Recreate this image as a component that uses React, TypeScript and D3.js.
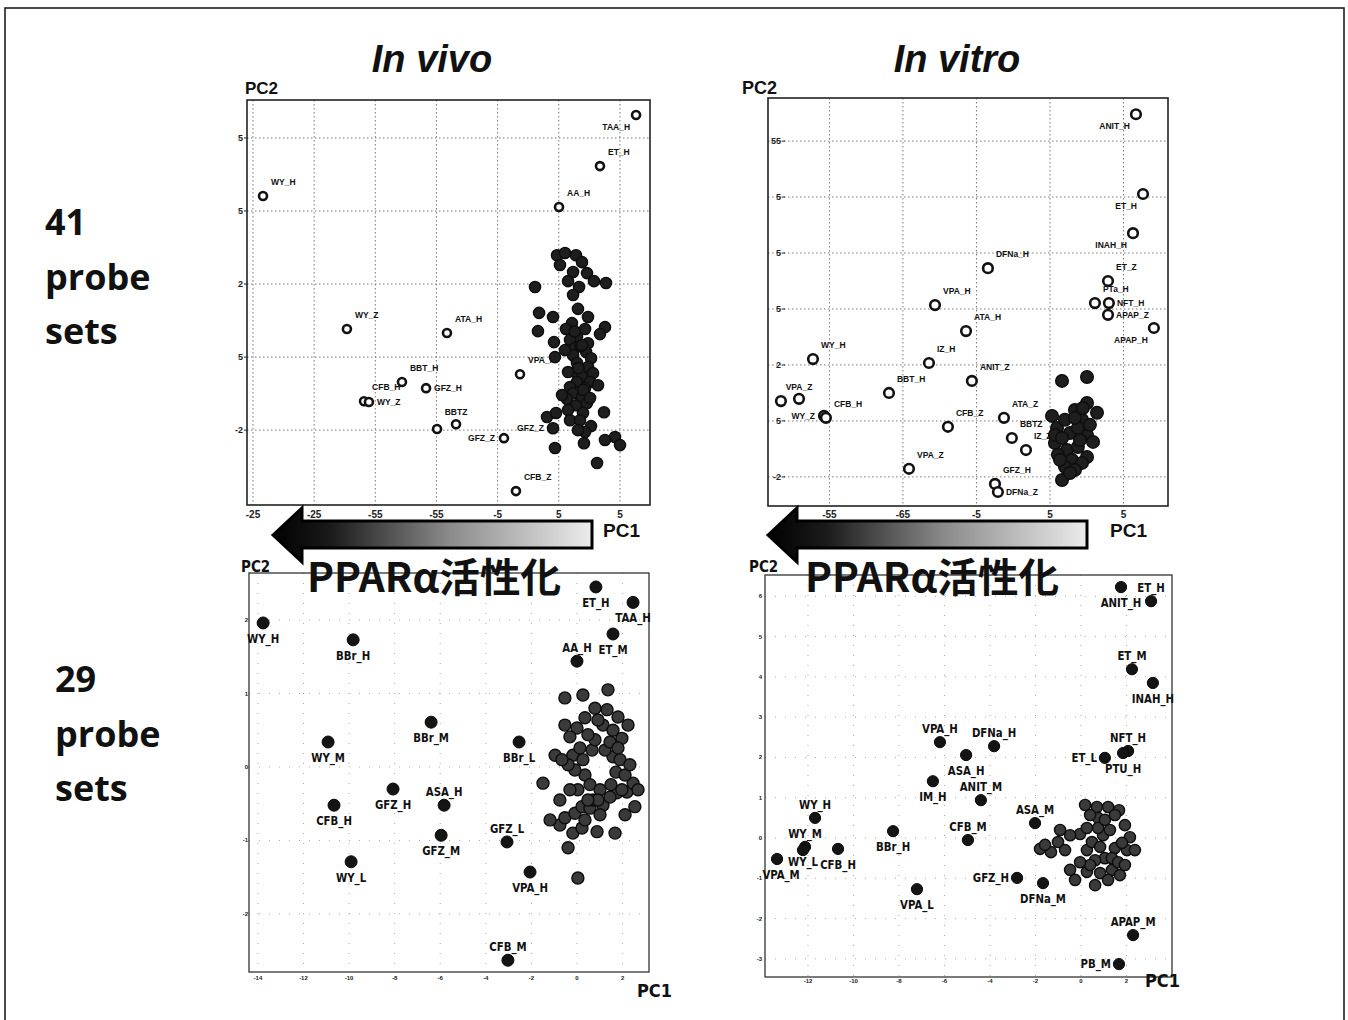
import React, { useRef, useEffect } from "react";
import * as d3 from "d3";

type Pt = [string, number, number];
type Dot = [number, number];

// ---------- In vivo, 41 probe sets (open = labelled compounds, filled = others) ----------
const tlOpen: Pt[] = [
  ["WY_H", -24.18, 4.41],
  ["TAA_H", 6.32, 6.63],
  ["ET_H", 3.37, 5.23],
  ["AA_H", 0.02, 4.11],
  ["WY_Z", -17.32, 0.77],
  ["ATA_H", -9.14, 0.66],
  ["VPA_H", -3.17, -0.47],
  ["BBT_H", -12.82, -0.68],
  ["GFZ_H", -10.85, -0.85],
  ["CFB_H", -15.92, -1.21],
  ["WY_Z", -15.52, -1.23],
  ["", -9.95, -1.97],
  ["BBTZ", -8.4, -1.84],
  ["GFZ_Z", -4.48, -2.22],
  ["CFB_Z", -3.5, -3.67],
];
const tlOpenSide = ["ne", "sw", "ne", "ne", "ne", "ne", "ne", "ne", "e", "ne", "e", "", "n", "w", "ne"];
const tlTextOnly: Pt[] = [["GFZ_Z", -0.47, -1.95]];
const tlTextOnlySide = ["w"];
const tlFilled: Dot[] = [
  [-0.14, 2.79], [0.51, 2.85], [1.41, 2.79], [1.17, 2.33], [2.31, 2.3], [2.88, 2.08], [3.86, 2.03],
  [0.76, 2.08], [1.66, 1.92], [1.17, 1.7], [-1.94, 1.92], [1.57, 1.32], [-1.61, 1.21], [-0.47, 1.1],
  [2.39, 1.1], [1.08, 0.93], [3.78, 0.82], [-1.7, 0.71], [0.59, 0.77], [2.15, 0.77], [3.37, 0.63],
  [1.49, 0.55], [-0.39, 0.41], [0.92, 0.47], [2.39, 0.38], [1.33, 0.25], [2.23, 0.14], [1.17, 0.05],
  [2.64, -0.03], [-0.31, 0.0], [1.49, -0.16], [2.39, -0.27], [1.33, -0.41], [2.8, -0.44], [1.9, -0.55],
  [1.49, -0.68], [2.55, -0.68], [3.21, -0.77], [0.92, -0.82], [2.15, -0.85], [1.17, -0.99], [0.67, -1.15],
  [1.9, -1.1], [1.41, -1.32], [2.31, -1.26], [0.76, -1.45], [1.98, -1.53], [3.7, -1.51], [-0.96, -1.64],
  [-0.22, -1.53], [0.92, -1.73], [1.74, -1.73], [-0.47, -1.95], [2.64, -1.89], [2.15, -2.05], [2.06, -2.36],
  [4.6, -2.19], [3.78, -2.27], [5.01, -2.41], [-0.31, -2.49], [3.13, -2.9], [1.8, 0.3], [1.6, -0.3],
  [2.0, -0.9], [1.3, 0.7], [0.1, 2.52], [1.9, 2.6], [0.51, 0.19], [1.9, 0.33], [0.76, -0.41],
  [0.27, -1.04], [2.56, -1.12], [1.57, -2.0],
];
const tlXTicks = [-25, -20, -15, -10, -5, 0, 5];
const tlXTickText = ["-25", "-25", "-55", "-55", "-5", "5", "5"];
const tlYTicks = [6, 4, 2, 0, -2];
const tlYTickText = ["5", "5", "2", "5", "-2"];

// ---------- In vitro, 41 probe sets ----------
const trOpen: Pt[] = [
  ["ANIT_H", 5.85, 10.96],
  ["ET_H", 6.33, 8.11],
  ["INAH_H", 5.65, 6.71],
  ["DFNa_H", -4.22, 5.46],
  ["ET_Z", 3.95, 5.0],
  ["PTa_H", 3.06, 4.21],
  ["NFT_H", 4.01, 4.21],
  ["APAP_Z", 3.95, 3.79],
  ["APAP_H", 7.07, 3.32],
  ["VPA_H", -7.82, 4.14],
  ["ATA_H", -5.71, 3.21],
  ["WY_H", -16.12, 2.21],
  ["IZ_H", -8.23, 2.07],
  ["ANIT_Z", -5.31, 1.43],
  ["BBT_H", -10.95, 1.0],
  ["", -18.3, 0.71],
  ["VPA_Z", -17.07, 0.79],
  ["WY_Z", -15.37, 0.18],
  ["CFB_H", -15.24, 0.11],
  ["CFB_Z", -6.94, -0.21],
  ["ATA_Z", -3.13, 0.11],
  ["BBTZ", -2.59, -0.61],
  ["IZ_Z", -1.63, -1.04],
  ["VPA_Z", -9.59, -1.71],
  ["GFZ_H", -3.74, -2.25],
  ["DFNa_Z", -3.54, -2.54],
];
const trOpenSide = [
  "sw", "sw", "sw", "ne", "ne", "ne", "e", "e", "sw", "ne", "ne", "ne", "ne",
  "ne", "ne", "", "n", "w", "ne", "ne", "ne", "ne", "ne", "ne", "ne", "e",
];
const trFilled: Dot[] = [
  [0.82, 1.43], [2.52, 1.57], [0.14, 0.18], [3.2, 0.29], [2.52, 0.64], [1.7, 0.39], [2.18, 0.04],
  [0.48, -0.25], [1.36, -0.43], [2.52, -0.5], [2.93, -0.75], [0.34, -0.79], [1.16, -1.04], [1.9, -0.93],
  [2.52, -1.29], [0.54, -1.21], [1.5, -1.39], [2.18, -1.5], [1.02, -1.64], [1.7, -1.75], [0.82, -2.11],
  [1.36, -1.86], [1.02, 0.04], [1.9, -0.25], [0.68, -1.39], [2.04, -0.68], [2.72, -0.14], [1.7, 0.11],
  [0.34, -0.5], [2.24, 0.46], [0.82, -0.61],
];
const trXTicks = [-15, -10, -5, 0, 5];
const trXTickText = ["-55", "-65", "-5", "5", "5"];
const trYTicks = [10, 8, 6, 4, 2, 0, -2];
const trYTickText = ["55", "5", "5", "5", "2", "5", "-2"];

// ---------- In vivo, 29 probe sets ----------
const blNamed: Pt[] = [
  ["WY_H", -13.77, 1.96],
  ["BBr_H", -9.82, 1.73],
  ["ET_H", 0.83, 2.45],
  ["TAA_H", 2.46, 2.24],
  ["ET_M", 1.58, 1.81],
  ["AA_H", 0.0, 1.44],
  ["BBr_M", -6.4, 0.61],
  ["WY_M", -10.92, 0.34],
  ["BBr_L", -2.54, 0.34],
  ["CFB_H", -10.66, -0.52],
  ["GFZ_H", -8.07, -0.3],
  ["ASA_H", -5.83, -0.52],
  ["GFZ_M", -5.96, -0.93],
  ["GFZ_L", -3.07, -1.02],
  ["WY_L", -9.91, -1.29],
  ["VPA_H", -2.06, -1.43],
  ["CFB_M", -3.03, -2.63],
];
const blNamedSide = ["s", "s", "s", "s", "s", "n", "s", "s", "s", "s", "s", "n", "s", "n", "s", "s", "n"];
const blOthers: Dot[] = [
  [-1.49, -0.22], [0.04, -1.51], [-0.39, -1.1], [-0.75, -0.79], [0.88, -0.88], [1.67, -0.9], [-0.18, -0.9],
  [0.22, -0.83], [-0.53, -0.69], [-0.09, -0.63], [0.22, -0.54], [0.57, -0.56], [0.7, -0.45], [1.14, -0.52],
  [1.75, -0.35], [2.19, -0.34], [2.54, -0.54], [2.46, -0.22], [-0.53, 0.94], [1.36, 1.05], [1.32, 0.78],
  [1.8, 0.68], [0.79, 0.8], [0.35, 0.67], [0.0, 0.53], [1.14, 0.57], [1.58, 0.5], [1.97, 0.39],
  [-0.31, 0.41], [-0.96, 0.16], [-0.18, 0.16], [0.26, 0.1], [0.35, -0.11], [0.57, -0.24], [1.01, -0.31],
  [1.49, -0.24], [1.71, -0.07], [1.58, 0.14], [1.23, 0.23], [0.66, 0.23], [0.13, 0.26], [1.89, 0.1],
  [-0.09, -0.04], [0.04, -0.31], [1.45, -0.41], [1.97, -0.31], [0.79, 0.37], [1.45, 0.34], [-0.39, 0.03],
  [2.11, -0.11], [0.92, -0.45], [0.48, -0.45], [-0.66, 0.1], [-0.31, -0.31], [0.35, -0.72], [1.01, -0.65],
  [2.11, -0.65], [2.32, 0.03], [1.8, 0.26], [0.48, 0.44], [-0.53, 0.57], [0.92, 0.64], [2.24, 0.57],
  [0.26, 0.98], [-0.75, -0.45], [-1.18, -0.72], [2.68, -0.31],
];
const blXTicks = [-14, -12, -10, -8, -6, -4, -2, 0, 2];
const blYTicks = [2, 1, 0, -1, -2];

// ---------- In vitro, 29 probe sets ----------
const brNamed: Pt[] = [
  ["ANIT_H", 1.76, 6.23],
  ["ET_H", 3.08, 5.88],
  ["ET_M", 2.24, 4.19],
  ["INAH_H", 3.16, 3.85],
  ["VPA_H", -6.2, 2.38],
  ["DFNa_H", -3.82, 2.28],
  ["ASA_H", -5.05, 2.06],
  ["NFT_H", 2.07, 2.16],
  ["PTU_H", 1.85, 2.11],
  ["ET_L", 1.05, 1.99],
  ["IM_H", -6.51, 1.41],
  ["ANIT_M", -4.4, 0.94],
  ["WY_H", -11.69, 0.5],
  ["ASA_M", -2.02, 0.37],
  ["BBr_H", -8.26, 0.17],
  ["CFB_M", -4.97, -0.05],
  ["WY_M", -12.13, -0.22],
  ["WY_L", -12.22, -0.3],
  ["CFB_H", -10.68, -0.27],
  ["VPA_M", -13.36, -0.52],
  ["GFZ_H", -2.81, -0.99],
  ["DFNa_M", -1.67, -1.12],
  ["VPA_L", -7.21, -1.27],
  ["APAP_M", 2.29, -2.41],
  ["PB_M", 1.67, -3.13],
];
const brNamedSide = [
  "s", "n", "n", "s", "n", "n", "s", "n", "s", "w", "s", "n", "n",
  "n", "s", "n", "n", "sc", "s", "se", "w", "s", "s", "n", "w",
];
const brOthers: Dot[] = [
  [-1.8, -0.27], [-1.32, -0.35], [-1.01, -0.1], [-0.26, -1.04], [-0.04, 0.1], [0.26, 0.25], [0.7, 0.77],
  [1.19, 0.77], [1.67, 0.69], [0.75, 0.5], [2.15, 0.02], [2.02, -0.3], [0.26, -0.3], [0.26, -0.84],
  [0.84, -0.87], [1.36, -0.79], [1.05, -0.5], [1.49, -0.25], [0.97, 0.07], [0.48, -0.1], [0.84, -0.22],
  [1.27, 0.2], [0.62, -0.55], [1.36, -0.5], [1.8, -0.12], [0.75, 0.25], [1.05, 0.45], [0.4, -0.67],
  [1.63, -0.6], [-1.58, -0.17], [-0.7, -0.3], [-0.48, 0.07], [0.4, 0.57], [1.49, 0.57], [1.93, 0.32],
  [2.37, -0.3], [1.71, -0.92], [0.62, -1.17], [-0.04, -0.6], [-0.48, -0.79], [1.19, -1.04], [0.18, 0.82],
  [-0.92, 0.2], [1.93, -0.67],
];
const brXTicks = [-12, -10, -8, -6, -4, -2, 0, 2];
const brYTicks = [6, 5, 4, 3, 2, 1, 0, -1, -2, -3];

const FONT = "'Liberation Sans', Arial, sans-serif";
const NARROW = "'Liberation Sans Narrow', 'DejaVu Sans Condensed', sans-serif";

const topSide: Record<string, [number, number, string]> = {
  ne: [8, -11, "start"],
  e: [8, 3, "start"],
  sw: [-6, 15, "end"],
  w: [-9, 3, "end"],
  n: [0, -9, "middle"],
};
const botSide: Record<string, [number, number, string]> = {
  s: [0, 20, "middle"],
  se: [4, 20, "middle"],
  sc: [0, 16, "middle"],
  n: [0, -9, "middle"],
  w: [-8, 4, "end"],
};

export default function App() {
  const ref = useRef<SVGSVGElement>(null);

  useEffect(() => {
    const svg = d3.select(ref.current);
    svg.selectAll("*").remove();

    const defs = svg.append("defs");
    const grad = defs.append("linearGradient").attr("id", "arrowGrad").attr("x1", 0).attr("x2", 1).attr("y1", 0).attr("y2", 0);
    grad.append("stop").attr("offset", "0%").attr("stop-color", "#000");
    grad.append("stop").attr("offset", "18%").attr("stop-color", "#1a1a1a");
    grad.append("stop").attr("offset", "55%").attr("stop-color", "#8a8a8a");
    grad.append("stop").attr("offset", "100%").attr("stop-color", "#ececec");

    svg.append("rect").attr("width", 1348).attr("height", 1020).attr("fill", "#fff");
    svg.append("rect").attr("x", 5).attr("y", 8).attr("width", 1339).attr("height", 1030)
      .attr("fill", "none").attr("stroke", "#111").attr("stroke-width", 1.5);

    // ----- panel drawing -----
    function panel(opts: any) {
      const [l, t, r, b] = opts.box;
      const x = d3.scaleLinear().domain(opts.xDom).range([l, r]);
      const y = d3.scaleLinear().domain(opts.yDom).range([b, t]);
      const g = svg.append("g");
      const top = opts.kind === "top";

      // grid
      g.selectAll("line.vx").data(opts.xTicks).enter().append("line")
        .attr("x1", (d: number) => x(d)).attr("x2", (d: number) => x(d)).attr("y1", t).attr("y2", b)
        .attr("stroke", top ? "#777" : "#aaa").attr("stroke-width", 1)
        .attr("stroke-dasharray", top ? "1.5,2.5" : "1,9");
      g.selectAll("line.hy").data(opts.yTicks).enter().append("line")
        .attr("y1", (d: number) => y(d)).attr("y2", (d: number) => y(d)).attr("x1", l).attr("x2", r)
        .attr("stroke", top ? "#777" : "#aaa").attr("stroke-width", 1)
        .attr("stroke-dasharray", top ? "1.5,2.5" : "1,9");

      // frame
      g.append("rect").attr("x", l).attr("y", t).attr("width", r - l).attr("height", b - t)
        .attr("fill", "none").attr("stroke", top ? "#222" : "#333").attr("stroke-width", top ? 1.6 : 1.3);

      // tick labels
      g.selectAll("text.xt").data(opts.xTicks).enter().append("text")
        .attr("x", (d: number) => x(d)).attr("y", opts.xLabelY)
        .attr("text-anchor", "middle").attr("font-family", FONT)
        .attr("font-size", top ? 10 : 6).attr("font-weight", "bold").attr("fill", "#222")
        .text((d: number, i: number) => (opts.xTickText ? opts.xTickText[i] : String(d)));
      g.selectAll("text.yt").data(opts.yTicks).enter().append("text")
        .attr("x", opts.yLabelX).attr("y", (d: number) => y(d) + (top ? 3 : 2))
        .attr("text-anchor", "end").attr("font-family", FONT)
        .attr("font-size", top ? 9 : 6).attr("font-weight", "bold").attr("fill", "#222")
        .text((d: number, i: number) => (opts.yTickText ? opts.yTickText[i] : String(d)));
      if (top) {
        g.selectAll("line.ytm").data(opts.yTicks).enter().append("line")
          .attr("x1", opts.yLabelX + 1).attr("x2", opts.yLabelX + 4)
          .attr("y1", (d: number) => y(d)).attr("y2", (d: number) => y(d))
          .attr("stroke", "#222").attr("stroke-width", 1);
      }

      // axis titles
      g.append("text").attr("x", opts.pc2[0]).attr("y", opts.pc2[1])
        .attr("font-family", top ? FONT : NARROW).attr("font-weight", "bold")
        .attr("font-size", opts.pc2[2]).attr("fill", "#111").text("PC2");
      g.append("text").attr("x", opts.pc1[0]).attr("y", opts.pc1[1])
        .attr("font-family", top ? FONT : NARROW).attr("font-weight", "bold")
        .attr("font-size", opts.pc1[2]).attr("fill", "#111").text("PC1");

      const side = top ? topSide : botSide;

      if (top) {
        // open circles
        g.selectAll("circle.open").data(opts.named).enter().append("circle")
          .attr("cx", (d: Pt) => x(d[1])).attr("cy", (d: Pt) => y(d[2])).attr("r", opts.openR)
          .attr("fill", "#fff").attr("stroke", "#111").attr("stroke-width", 2.6);
      }

      const labelled = opts.named.map((d: Pt, i: number) => ({ d, s: opts.namedSide[i] }))
        .concat((opts.textOnly || []).map((d: Pt, i: number) => ({ d, s: opts.textOnlySide[i] })))
        .filter((o: any) => o.d[0] && o.s);

      const drawLabels = () =>
        g.selectAll("text.lab" + opts.key).data(labelled).enter().append("text")
          .attr("transform", (o: any) =>
            `translate(${x(o.d[1]) + side[o.s][0]},${y(o.d[2]) + side[o.s][1]})` + (top ? "" : " scale(0.87,1)"))
          .attr("text-anchor", (o: any) => side[o.s][2])
          .attr("font-family", top ? FONT : NARROW).attr("font-size", top ? 8.5 : 13)
          .attr("font-weight", "bold").attr("fill", "#111")
          .text((o: any) => o.d[0]);

      if (top) drawLabels();

      // filled markers
      g.selectAll("circle.fill").data(opts.others).enter().append("circle")
        .attr("cx", (d: Dot) => x(d[0])).attr("cy", (d: Dot) => y(d[1])).attr("r", opts.fillR)
        .attr("fill", top ? "#1e1e1e" : "#3a3a3a").attr("stroke", "#0d0d0d").attr("stroke-width", 1.4);

      if (!top) {
        g.selectAll("circle.named").data(opts.named).enter().append("circle")
          .attr("cx", (d: Pt) => x(d[1])).attr("cy", (d: Pt) => y(d[2])).attr("r", opts.fillR)
          .attr("fill", "#141414").attr("stroke", "#0a0a0a").attr("stroke-width", 1);
        drawLabels();
      }
    }

    panel({
      key: "tl", kind: "top", box: [247, 100, 650, 505], xDom: [-25.49, 7.46], yDom: [-4.05, 7.04],
      xTicks: tlXTicks, xTickText: tlXTickText, yTicks: tlYTicks, yTickText: tlYTickText,
      xLabelY: 518, yLabelX: 243, named: tlOpen, namedSide: tlOpenSide, textOnly: tlTextOnly,
      textOnlySide: tlTextOnlySide, others: tlFilled, openR: 4, fillR: 5.6,
      pc2: [245, 94, 17], pc1: [603, 537, 19],
    });
    panel({
      key: "tr", kind: "top", box: [768, 98, 1168, 506], xDom: [-19.18, 8.03], yDom: [-3.04, 11.54],
      xTicks: trXTicks, xTickText: trXTickText, yTicks: trYTicks, yTickText: trYTickText,
      xLabelY: 518, yLabelX: 781, named: trOpen, namedSide: trOpenSide, others: trFilled,
      openR: 4.8, fillR: 6.3, pc2: [742, 94, 18], pc1: [1110, 537, 19],
    });
    panel({
      key: "bl", kind: "bottom", box: [249, 573, 649, 972], xDom: [-14.39, 3.16], yDom: [-2.79, 2.64],
      xTicks: blXTicks, yTicks: blYTicks, xLabelY: 980, yLabelX: 248,
      named: blNamed, namedSide: blNamedSide, others: blOthers, fillR: 6,
      pc2: [241, 572, 15], pc1: [637, 997, 18],
    });
    panel({
      key: "br", kind: "bottom", box: [765, 575, 1172, 977], xDom: [-13.89, 4.0], yDom: [-3.45, 6.53],
      xTicks: brXTicks, yTicks: brYTicks, xLabelY: 983, yLabelX: 762,
      named: brNamed, namedSide: brNamedSide, others: brOthers, fillR: 5.6,
      pc2: [749, 572, 15], pc1: [1145, 987, 18],
    });

    // ----- PPARα arrows -----
    const arrow = (tip: number, end: number) => {
      const hb = tip + 29;
      const pts: [number, number][] = [
        [tip, 535], [hb, 508], [hb, 521], [end, 521], [end, 548], [hb, 548], [hb, 562],
      ];
      svg.append("path").attr("d", d3.line()(pts) + "Z")
        .attr("fill", "url(#arrowGrad)").attr("stroke", "#000").attr("stroke-width", 3)
        .attr("stroke-linejoin", "miter");
    };
    arrow(273, 592);
    arrow(768, 1087);

    const jp = "'Noto Sans CJK JP', 'Noto Sans', sans-serif";
    [307, 805].forEach((xx) => {
      svg.append("text").attr("x", xx).attr("y", 592).attr("font-family", jp)
        .attr("font-weight", "bold").attr("font-size", 40).attr("fill", "#111")
        .attr("textLength", 254).attr("lengthAdjust", "spacingAndGlyphs").text("PPARα活性化");
    });

    // ----- titles -----
    svg.append("text").attr("x", 432).attr("y", 72).attr("text-anchor", "middle")
      .attr("font-family", FONT).attr("font-style", "italic").attr("font-weight", "bold")
      .attr("font-size", 38).attr("fill", "#111").text("In vivo");
    svg.append("text").attr("x", 957).attr("y", 72).attr("text-anchor", "middle")
      .attr("font-family", FONT).attr("font-style", "italic").attr("font-weight", "bold")
      .attr("font-size", 38).attr("fill", "#111").text("In vitro");

    // ----- row labels -----
    const rowFont = "'Open Sans', 'Lato', sans-serif";
    const rows: [number, number, string[]][] = [
      [45, 235, ["41", "probe", "sets"]],
      [55, 692, ["29", "probe", "sets"]],
    ];
    rows.forEach(([xx, yy, lines]) => {
      lines.forEach((s, i) => {
        svg.append("text").attr("x", xx).attr("y", yy + i * 54.5)
          .attr("font-family", rowFont).attr("font-weight", "bold")
          .attr("font-size", 36).attr("fill", "#111").text(s);
      });
    });
  }, []);

  return (
    <svg
      ref={ref}
      width={1348}
      height={1020}
      style={{ position: "absolute", left: 0, top: 0, display: "block" }}
    />
  );
}
